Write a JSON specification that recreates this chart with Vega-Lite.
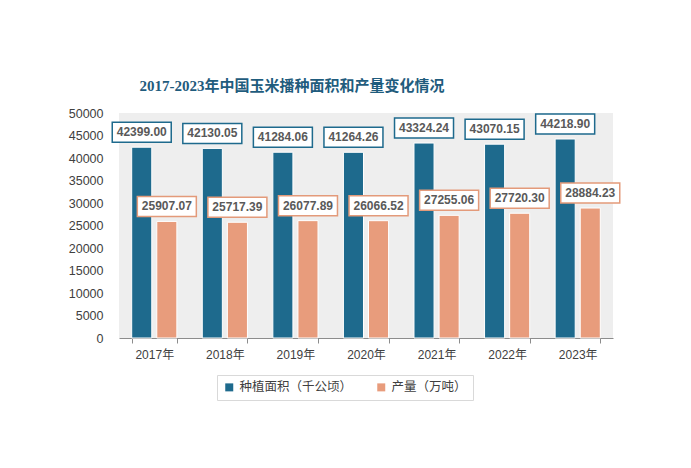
{
  "$schema": "https://vega.github.io/schema/vega-lite/v6.json",
  "width": 494,
  "height": 225,
  "autosize": "none",
  "padding": {"left": 119, "top": 113, "right": 78, "bottom": 130},
  "background": "white",
  "title": {
    "text": "2017-2023年中国玉米播种面积和产量变化情况",
    "font": "Liberation Serif, Noto Sans CJK SC",
    "fontSize": 15,
    "fontWeight": "bold",
    "color": "#1f5c7d",
    "anchor": "middle",
    "frame": "group",
    "dx": -74,
    "offset": 13
  },
  "config": {
    "view": {"stroke": null, "fill": "#eeeeee"},
    "font": "Liberation Sans, Noto Sans CJK SC"
  },
  "data": {
    "values": [
      {"year": "2017年", "series": "种植面积（千公顷）", "value": 42399.00},
      {"year": "2018年", "series": "种植面积（千公顷）", "value": 42130.05},
      {"year": "2019年", "series": "种植面积（千公顷）", "value": 41284.06},
      {"year": "2020年", "series": "种植面积（千公顷）", "value": 41264.26},
      {"year": "2021年", "series": "种植面积（千公顷）", "value": 43324.24},
      {"year": "2022年", "series": "种植面积（千公顷）", "value": 43070.15},
      {"year": "2023年", "series": "种植面积（千公顷）", "value": 44218.90},
      {"year": "2017年", "series": "产量（万吨）", "value": 25907.07},
      {"year": "2018年", "series": "产量（万吨）", "value": 25717.39},
      {"year": "2019年", "series": "产量（万吨）", "value": 26077.89},
      {"year": "2020年", "series": "产量（万吨）", "value": 26066.52},
      {"year": "2021年", "series": "产量（万吨）", "value": 27255.06},
      {"year": "2022年", "series": "产量（万吨）", "value": 27720.30},
      {"year": "2023年", "series": "产量（万吨）", "value": 28884.23}
    ]
  },
  "encoding": {
    "x": {
      "field": "year",
      "type": "nominal",
      "sort": null,
      "scale": {"paddingInner": 0.36, "paddingOuter": 0.18},
      "axis": {
        "title": null,
        "labelAngle": 0,
        "labelFontSize": 12,
        "labelColor": "#404040",
        "labelPadding": 6,
        "domainColor": "#8c8c8c",
        "tickColor": "#8c8c8c",
        "tickSize": 5,
        "tickBand": "extent",
        "grid": false
      }
    },
    "xOffset": {
      "field": "series",
      "type": "nominal",
      "sort": ["种植面积（千公顷）", "产量（万吨）"],
      "scale": {"paddingInner": 0.2, "paddingOuter": 0}
    },
    "y": {
      "field": "value",
      "type": "quantitative",
      "scale": {"domain": [0, 50000], "nice": false},
      "axis": {
        "title": null,
        "values": [0, 5000, 10000, 15000, 20000, 25000, 30000, 35000, 40000, 45000, 50000],
        "format": "d",
        "labelFontSize": 12.5,
        "labelColor": "#404040",
        "labelPadding": 16,
        "ticks": false,
        "tickSize": 0,
        "domain": false,
        "grid": false
      }
    }
  },
  "layer": [
    {
      "mark": {"type": "bar", "stroke": "white", "strokeWidth": 1},
      "encoding": {
        "color": {
          "field": "series",
          "type": "nominal",
          "scale": {
            "domain": ["种植面积（千公顷）", "产量（万吨）"],
            "range": ["#1e6a8d", "#e89c7c"]
          },
          "legend": {
            "title": null,
            "orient": "none",
            "legendX": 98,
            "legendY": 262,
            "direction": "horizontal",
            "strokeColor": "#d9d9d9",
            "fillColor": "white",
            "padding": 6,
            "symbolType": "square",
            "symbolSize": 64,
            "symbolStrokeWidth": 0,
            "labelFont": "Noto Sans CJK SC",
            "labelFontSize": 12.5,
            "labelColor": "#404040",
            "labelOffset": 4,
            "columnPadding": 22
          }
        }
      }
    },
    {
      "mark": {
        "type": "point",
        "shape": "M-1,-0.339H1V0.339H-1Z",
        "size": 3481,
        "filled": true,
        "fill": "white",
        "opacity": 1,
        "strokeWidth": 1.5,
        "yOffset": -15
      },
      "encoding": {
        "stroke": {
          "field": "series",
          "type": "nominal",
          "scale": {
            "domain": ["种植面积（千公顷）", "产量（万吨）"],
            "range": ["#1e6a8d", "#e39a7a"]
          },
          "legend": null
        }
      }
    },
    {
      "mark": {
        "type": "text",
        "fontSize": 12,
        "fontWeight": "bold",
        "color": "#595959",
        "baseline": "middle",
        "dy": -15
      },
      "encoding": {
        "text": {"field": "value", "type": "quantitative", "format": ".2f"}
      }
    }
  ]
}
